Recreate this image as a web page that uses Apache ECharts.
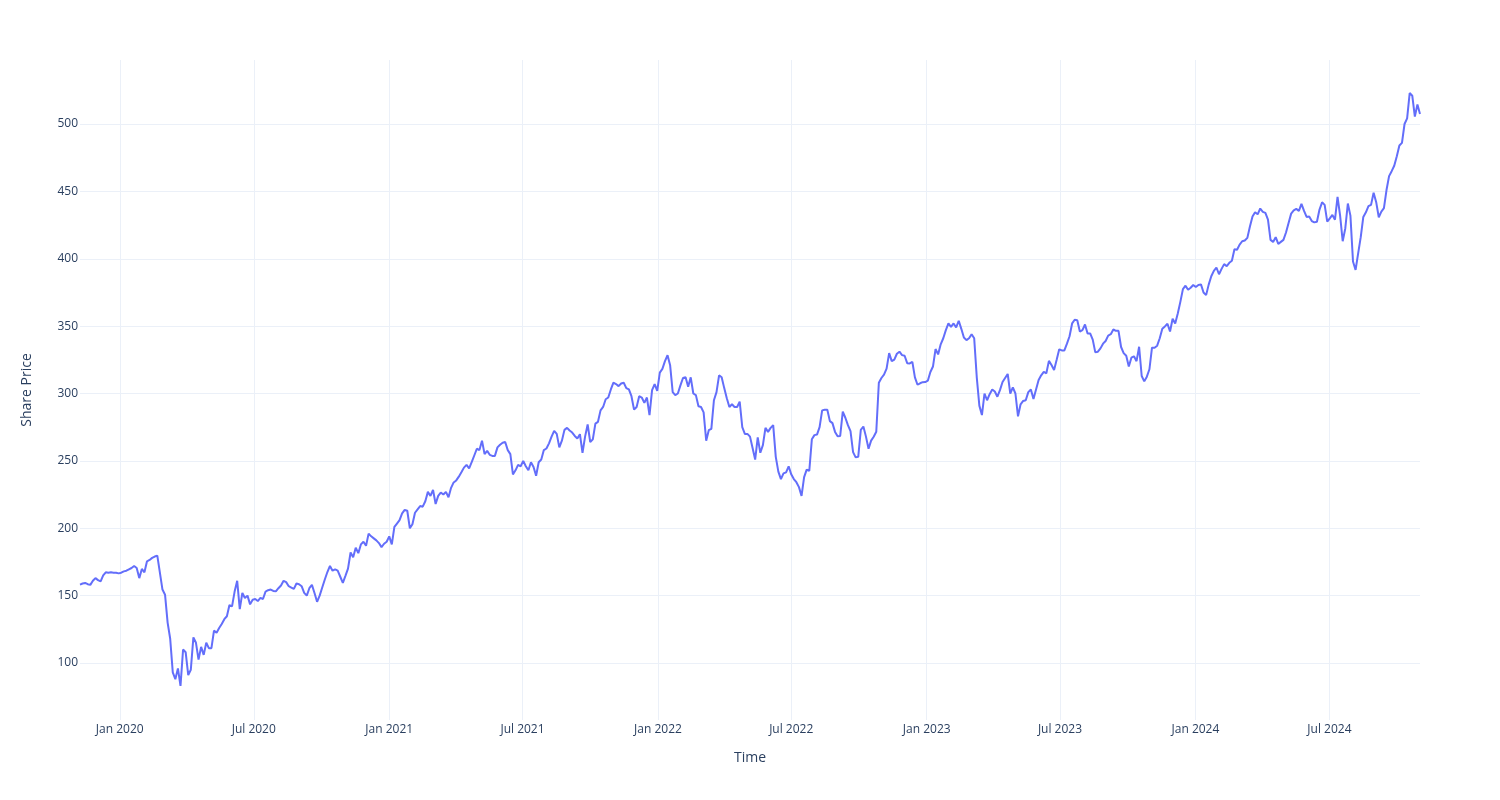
<!DOCTYPE html>
<html>
<head>
<meta charset="utf-8">
<script src="https://cdn.jsdelivr.net/npm/echarts@6/dist/echarts.min.js"></script>
<style>
html,body{margin:0;padding:0;background:#ffffff;}
#chart{width:1500px;height:800px;}
</style>
</head>
<body>
<div id="chart"></div>
<script>
// Share prices, two readings per week (every 3.5 days)
// starting 2019-11-08.
const firstDay = [2019, 11, 8];
const prices2019 = [158.2,159,159.4,158.5,158,161,163,161.5,160.6,165,167.3,167,167.3,167,167,166.5];
const prices2020 = [167,168,168.5,169.5,170.5,172,170.5,163,169.8,167.3,175.5,176.5,178,179,179.7,
  167,154.5,150.7,130,118,93,88,96,83,110,108,91,95,119,115,102.5,112,106,115,111,
  111,124,122.5,126,129,132.5,134.7,143,142,153,161,140,152,148.3,150,143.5,147,147.5,146,148.3,
  147.5,153,154,154.5,153.5,153.2,155.5,157.5,161,160,157,156,155,159,158.5,157,152,150,
  155.5,158,152,145.4,150,156,162,167.5,172,168.5,169.5,168.5,164,159.5,164.7,170,182,178.5,185.5,181.5,188,190,187,196,194,192.5,191,189,186,188.5,190];
const prices2021 = [194,188,201,203.5,206,211,213.6,213,200,203,211.5,214,216.5,216,220,227,224,228.5,218,224,226.5,
  225,227,223,230,234,235.5,238.3,241.5,245,247,244.5,249,254,259,258,265,255,257.4,254.5,253.7,253.7,260,262,263.5,264,258,255,240,243,247,246,
  250,246,243,249,245.5,239,249,251,258,259.2,263,268,272.3,270,260,265,273,274.5,272.5,271,268.5,266.6,269.8,256,268,277,264,266,277.7,279,287.5,290,
  295.7,297,303,308,307,305.5,307.4,308,304,303,298,288,290,298,297,293,297,284,302.5,307,302];
const prices2022 = [315.5,318.3,324,328.4,321,301,298.8,300,306,311.5,312,305,312,300,298.8,290.5,290,286,265,272.8,273.8,295,301,313.5,312,304,296.5,290,292,290,
  290,294,275,270,270,268,259.5,251,267.5,256,261.7,274.5,271.5,274.5,276.5,253,242,236.5,240.7,241.5,246,240,236.5,234.2,230.5,224,238,243.5,242.5,266,269.1,269.5,275,287.5,288,288,
  279.5,278,271.5,268.2,268.5,286.5,282,276.5,272,256.5,252.6,253,273,275.5,268,259,265,267.9,271.6,308,311.5,314,318.5,330,324,325.2,329.5,331,328.5,328,322.5,322.3,323.5,312,306.5,307.6,308.4,308.5];
const prices2023 = [309.5,316,320,333,329,336.5,341,347,352,349.5,352,349,354,348,341.5,339.6,341,344,341,312,291,284,300,295,299.5,303,301.5,297.6,302.5,308.5,311.5,314.5,
  300,304.5,300,283,292,294.5,295,301,303,296,303,310,313.5,316,315,324.2,321.2,317.5,325,332.8,332,332,337,342.5,352,354.7,354.4,346,347,351.2,344.6,344.6,340,330.5,331,
  333.5,337,339,343,344,347.5,346.5,346.5,334.5,330,328,320,326.6,327.6,324,334.7,313,309,312.5,318,334,334,335.5,341,348,349.8,351.8,346,355.5,352,359.4,368,377.5,380,377,378.5,380.5];
const prices2024 = [379,380.5,381,375,373,380.8,387,391,393.5,388.5,392.5,396,394.5,397,398.5,407,406.7,410.5,413,413.5,415.5,424,431.3,434.5,433,437.3,434.8,434,
  429,414,412.5,416,411,412.5,414,419.5,426.5,433.5,435.9,437,435.5,440.7,435.5,431,431.3,428,427,427.5,436.5,441.9,440,427.5,430,432.5,429,446,432,413,
  422.5,441,432,398,391.7,404,416,431,434.5,439,440,449,442,430.8,435,437.5,451,461.3,465,469,476,484,486,500,504.2,523,521,505.5,514.5,507.5];

const tickDates = [[2020,1,1],[2020,7,1],[2021,1,1],[2021,7,1],[2022,1,1],[2022,7,1],[2023,1,1],[2023,7,1],[2024,1,1],[2024,7,1]];
const tickLabels = ['Jan 2020','Jul 2020','Jan 2021','Jul 2021','Jan 2022','Jul 2022','Jan 2023','Jul 2023','Jan 2024','Jul 2024'];
const yTicks = [100,150,200,250,300,350,400,450,500];

const allPrices = [].concat(prices2019, prices2020, prices2021, prices2022, prices2023, prices2024);
const seriesData = allPrices.map(function (v, j) {
  const d = new Date(firstDay[0], firstDay[1] - 1, firstDay[2] + Math.floor(j / 2) * 7 + (j % 2) * 3, (j % 2) * 12);
  return [d.getTime(), v];
});
const tickTs = tickDates.map(function (d) { return new Date(d[0], d[1] - 1, d[2]).getTime(); });

function labelFor(val) {
  let best = 0, bestDiff = Infinity;
  tickTs.forEach(function (t, i) {
    const df = Math.abs(t - val);
    if (df < bestDiff) { bestDiff = df; best = i; }
  });
  return tickLabels[best];
}

const textColor = '#2a3f5f';
const gridColor = '#EBF0F8';
const fontFamily = '"Open Sans", verdana, arial, sans-serif';

const chart = echarts.init(document.getElementById('chart'), null, {renderer: 'canvas'});
chart.setOption({
  animation: false,
  backgroundColor: '#ffffff',
  grid: {left: 80, right: 80, top: 60, bottom: 80, containLabel: false},
  xAxis: {
    type: 'value',
    min: seriesData[0][0],
    max: seriesData[seriesData.length - 1][0],
    name: 'Time',
    nameLocation: 'middle',
    nameGap: 31,
    nameTextStyle: {color: textColor, fontSize: 14, fontFamily: fontFamily},
    axisLine: {show: false},
    axisTick: {show: false, customValues: tickTs},
    axisLabel: {
      customValues: tickTs,
      formatter: function (v) { return labelFor(v); },
      color: textColor, fontSize: 12, fontFamily: fontFamily, margin: 4,
      hideOverlap: false
    },
    splitLine: {show: true, lineStyle: {color: gridColor, width: 1}}
  },
  yAxis: {
    type: 'value',
    min: 57.7,
    max: 547.5,
    name: 'Share Price',
    nameLocation: 'middle',
    nameGap: 46,
    nameTextStyle: {color: textColor, fontSize: 14, fontFamily: fontFamily},
    axisLine: {show: false},
    axisTick: {show: false, customValues: yTicks},
    axisLabel: {
      customValues: yTicks,
      color: textColor, fontSize: 12, fontFamily: fontFamily, margin: 2
    },
    splitLine: {show: true, lineStyle: {color: gridColor, width: 1}}
  },
  series: [{
    type: 'line',
    data: seriesData,
    showSymbol: false,
    symbol: 'none',
    lineStyle: {color: '#636efa', width: 2},
    itemStyle: {color: '#636efa'}
  }]
});
</script>
</body>
</html>
